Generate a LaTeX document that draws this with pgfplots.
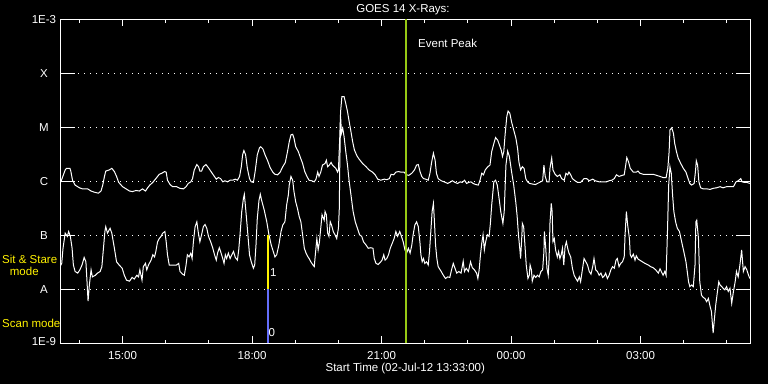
\documentclass[border=0pt]{standalone}
\usepackage{fontspec}
\setmainfont{Liberation Sans}
\usepackage{pgfplots}
\pgfplotsset{compat=1.18}
\definecolor{peak}{RGB}{150,200,20}
\definecolor{scanblue}{RGB}{100,110,250}
\begin{document}
\begin{tikzpicture}[x=1pt,y=1pt,font=\fontsize{11.5}{13}\selectfont]
\path[use as bounding box, fill=black] (0,0) rectangle (768,384);
\begin{axis}[
  at={(60pt,40.7pt)}, anchor=south west, scale only axis,
  width=690.7pt, height=324pt,
  xmin=13.55, xmax=29.55, ymin=-9, ymax=-3,
  axis line style={white, line width=1pt},
  xtick={15,18,21,24,27},
  xticklabels={15:00,18:00,21:00,00:00,03:00},
  minor xtick={14,16,17,19,20,22,23,25,26,28,29},
  ytick={-9,-8,-7,-6,-5,-4,-3},
  yticklabels={\raisebox{4pt}{1E-9},A,B,C,M,X,\raisebox{-4pt}{1E-3}},
  xtick pos=both, ytick pos=both, tick align=inside,
  tick style={white, line width=1pt},
  xtick style={/pgfplots/major tick length=7pt, /pgfplots/minor tick length=3.5pt},
  ytick style={/pgfplots/major tick length=15pt},
  ymajorgrids=true,
  major grid style={white, line width=1pt, dash pattern=on 1pt off 5pt},
  ticklabel style={white},
  xticklabel style={anchor=center, yshift=-12.4pt},
  yticklabel style={anchor=center, xshift=-16pt},
]
% GOES long channel (1-8 A), log10 flux
\addplot[white, line width=1pt, no markers] table {
13.53 -6.01
13.57 -6.01
13.67 -5.79
13.70 -5.76
13.78 -5.76
13.80 -5.81
13.84 -5.98
13.90 -6.07
14.00 -6.12
14.07 -6.14
14.19 -6.14
14.27 -6.18
14.34 -6.20
14.44 -6.22
14.50 -6.18
14.54 -6.07
14.58 -5.91
14.61 -5.81
14.69 -5.79
14.75 -5.76
14.81 -5.82
14.86 -5.91
14.91 -6.02
15.00 -6.10
15.08 -6.14
15.16 -6.18
15.23 -6.19
15.31 -6.17
15.39 -6.18
15.46 -6.14
15.53 -6.18
15.58 -6.12
15.63 -6.07
15.70 -6.02
15.76 -5.96
15.81 -5.91
15.85 -5.87
15.91 -5.85
15.97 -5.82
16.01 -5.83
16.04 -5.98
16.10 -6.06
16.16 -6.10
16.25 -6.10
16.33 -6.13
16.41 -6.14
16.47 -6.10
16.52 -6.04
16.58 -6.01
16.62 -5.95
16.66 -5.79
16.72 -5.69
16.76 -5.73
16.79 -5.81
16.83 -5.81
16.87 -5.73
16.93 -5.69
16.99 -5.75
17.04 -5.81
17.10 -5.88
17.17 -5.96
17.22 -5.93
17.27 -5.95
17.32 -6.01
17.37 -5.99
17.43 -6.01
17.49 -5.98
17.55 -5.98
17.61 -5.96
17.66 -5.98
17.71 -5.91
17.75 -5.73
17.78 -5.51
17.81 -5.43
17.85 -5.51
17.89 -5.76
17.94 -5.95
17.98 -6.01
18.03 -6.02
18.07 -5.82
18.12 -5.51
18.17 -5.38
18.20 -5.36
18.25 -5.40
18.30 -5.51
18.36 -5.62
18.42 -5.75
18.48 -5.83
18.53 -5.87
18.59 -5.88
18.65 -5.83
18.71 -5.73
18.77 -5.65
18.82 -5.45
18.86 -5.27
18.90 -5.14
18.94 -5.13
18.97 -5.20
19.01 -5.36
19.07 -5.45
19.11 -5.54
19.17 -5.67
19.22 -5.82
19.27 -5.91
19.32 -5.98
19.38 -5.99
19.44 -6.01
19.48 -5.96
19.52 -5.83
19.55 -5.91
19.59 -5.83
19.63 -5.70
19.69 -5.67
19.72 -5.61
19.75 -5.73
19.79 -5.70
19.83 -5.65
19.86 -5.70
19.90 -5.73
19.94 -5.76
19.98 -5.83
20.00 -5.79
20.03 -5.20
20.05 -4.71
20.08 -4.43
20.13 -4.43
20.17 -4.56
20.21 -4.71
20.25 -4.90
20.29 -5.08
20.33 -5.27
20.37 -5.42
20.43 -5.53
20.48 -5.59
20.56 -5.67
20.64 -5.73
20.71 -5.79
20.79 -5.83
20.85 -5.88
20.91 -5.96
20.98 -5.98
21.06 -5.96
21.12 -5.97
21.18 -5.95
21.22 -5.87
21.28 -5.88
21.33 -5.83
21.39 -5.82
21.45 -5.83
21.52 -5.83
21.58 -5.88
21.63 -5.89
21.70 -5.85
21.76 -5.79
21.81 -5.70
21.85 -5.69
21.89 -5.82
21.93 -5.91
21.97 -5.95
22.02 -5.96
22.08 -5.98
22.12 -5.85
22.16 -5.64
22.20 -5.48
22.24 -5.61
22.27 -5.85
22.31 -5.95
22.38 -5.99
22.45 -6.01
22.53 -6.04
22.58 -6.02
22.64 -5.99
22.70 -6.02
22.76 -6.04
22.82 -6.01
22.87 -6.02
22.92 -5.98
22.97 -6.04
23.02 -6.02
23.07 -6.01
23.12 -6.04
23.18 -6.06
23.24 -6.07
23.28 -5.98
23.32 -5.85
23.36 -5.88
23.40 -5.79
23.46 -5.73
23.51 -5.70
23.55 -5.45
23.60 -5.30
23.64 -5.19
23.69 -5.24
23.73 -5.33
23.77 -5.42
23.80 -5.54
23.83 -5.45
23.86 -5.14
23.90 -4.80
23.93 -4.70
23.97 -4.74
24.01 -4.90
24.05 -5.02
24.09 -5.14
24.11 -5.20
24.15 -5.39
24.18 -5.64
24.22 -5.79
24.26 -5.73
24.30 -5.76
24.34 -5.95
24.38 -6.01
24.43 -6.04
24.49 -6.05
24.56 -6.06
24.61 -6.04
24.66 -6.02
24.73 -5.99
24.76 -5.70
24.79 -5.91
24.83 -6.01
24.88 -6.01
24.90 -5.76
24.94 -5.57
24.97 -5.79
25.02 -5.87
25.07 -5.91
25.13 -5.88
25.17 -5.95
25.23 -5.98
25.27 -5.85
25.31 -5.88
25.34 -5.83
25.38 -5.88
25.42 -5.95
25.48 -5.99
25.54 -6.02
25.61 -6.02
25.69 -5.95
25.75 -5.95
25.81 -5.99
25.89 -5.96
25.95 -5.99
26.04 -6.01
26.13 -6.01
26.21 -6.01
26.27 -5.99
26.33 -5.98
26.39 -5.95
26.44 -5.88
26.50 -5.91
26.57 -5.89
26.62 -5.88
26.66 -5.67
26.68 -5.56
26.72 -5.64
26.76 -5.76
26.83 -5.83
26.90 -5.83
26.94 -5.81
26.98 -5.85
27.06 -5.87
27.18 -5.87
27.29 -5.87
27.37 -5.89
27.45 -5.91
27.52 -5.93
27.59 -5.93
27.63 -5.76
27.66 -5.45
27.68 -5.05
27.72 -5.01
27.76 -5.11
27.79 -5.30
27.83 -5.45
27.87 -5.57
27.93 -5.67
27.99 -5.76
28.05 -5.83
28.10 -5.95
28.14 -6.04
28.18 -6.07
28.24 -6.04
28.27 -5.82
28.29 -5.62
28.32 -5.70
28.35 -6.01
28.39 -6.12
28.45 -6.14
28.53 -6.14
28.61 -6.15
28.68 -6.13
28.76 -6.12
28.84 -6.10
28.91 -6.12
28.99 -6.10
29.07 -6.10
29.15 -6.10
29.21 -6.01
29.26 -5.99
29.32 -5.95
29.35 -6.01
29.40 -6.02
29.46 -6.02
29.53 -6.04
};
% GOES short channel (0.5-4 A), log10 flux
\addplot[white, line width=1pt, no markers] table {
13.55 -7.58
13.59 -7.52
13.62 -7.24
13.67 -6.96
13.72 -7.02
13.75 -6.93
13.79 -7.02
13.83 -7.24
13.86 -7.55
13.90 -7.67
13.96 -7.70
14.01 -7.64
14.06 -7.55
14.11 -7.41
14.15 -7.49
14.18 -7.92
14.20 -8.22
14.23 -7.92
14.27 -7.64
14.30 -7.77
14.37 -7.74
14.42 -7.70
14.48 -7.67
14.52 -7.58
14.55 -7.30
14.59 -6.93
14.61 -6.84
14.65 -6.96
14.71 -6.87
14.75 -6.96
14.81 -7.24
14.86 -7.49
14.92 -7.55
14.99 -7.61
15.04 -7.74
15.09 -7.83
15.16 -7.85
15.22 -7.78
15.27 -7.81
15.33 -7.74
15.37 -7.77
15.40 -7.64
15.45 -7.83
15.48 -7.58
15.53 -7.52
15.56 -7.64
15.60 -7.55
15.66 -7.46
15.70 -7.36
15.74 -7.40
15.77 -7.30
15.81 -7.12
15.85 -7.06
15.89 -7.02
15.93 -6.96
15.98 -6.93
16.01 -7.12
16.04 -7.36
16.08 -7.55
16.16 -7.55
16.25 -7.55
16.30 -7.52
16.33 -7.67
16.39 -7.72
16.43 -7.74
16.47 -7.55
16.50 -7.36
16.54 -7.40
16.58 -7.33
16.61 -7.43
16.64 -7.12
16.68 -6.84
16.72 -6.75
16.75 -6.93
16.79 -7.12
16.83 -6.99
16.87 -6.84
16.91 -6.80
16.95 -6.87
16.99 -7.02
17.04 -7.12
17.09 -7.24
17.13 -7.36
17.17 -7.46
17.20 -7.33
17.24 -7.23
17.27 -7.30
17.32 -7.43
17.35 -7.52
17.38 -7.36
17.41 -7.43
17.45 -7.33
17.49 -7.43
17.53 -7.36
17.57 -7.30
17.61 -7.41
17.66 -7.46
17.69 -7.27
17.72 -6.99
17.76 -6.56
17.80 -6.31
17.82 -6.24
17.85 -6.50
17.89 -6.87
17.94 -7.36
17.98 -7.49
18.03 -7.61
18.06 -7.55
18.09 -7.18
18.12 -6.69
18.16 -6.35
18.19 -6.24
18.22 -6.35
18.28 -6.53
18.34 -6.75
18.39 -6.99
18.44 -7.17
18.49 -7.30
18.53 -7.40
18.57 -7.36
18.62 -7.18
18.67 -6.93
18.71 -6.81
18.76 -6.75
18.80 -6.44
18.84 -6.25
18.86 -6.07
18.90 -5.91
18.94 -5.98
18.97 -6.19
19.01 -6.38
19.05 -6.50
19.09 -6.65
19.13 -6.75
19.17 -6.99
19.21 -7.24
19.25 -7.33
19.28 -7.38
19.32 -7.43
19.36 -7.49
19.41 -7.55
19.44 -7.58
19.46 -7.40
19.50 -7.06
19.53 -7.27
19.56 -7.12
19.59 -6.87
19.62 -6.62
19.67 -6.72
19.69 -6.56
19.72 -6.62
19.75 -6.96
19.78 -7.02
19.81 -6.75
19.84 -6.81
19.88 -6.93
19.92 -6.99
19.96 -7.06
20.00 -6.87
20.02 -6.50
20.03 -5.76
20.05 -4.80
20.07 -5.11
20.10 -5.02
20.13 -5.17
20.17 -5.45
20.21 -5.70
20.25 -6.01
20.29 -6.25
20.34 -6.56
20.39 -6.75
20.44 -6.87
20.49 -6.99
20.54 -7.02
20.58 -7.12
20.64 -7.18
20.69 -7.24
20.75 -7.23
20.80 -7.24
20.83 -7.43
20.87 -7.52
20.92 -7.54
20.97 -7.50
21.01 -7.46
21.05 -7.36
21.08 -7.46
21.12 -7.43
21.16 -7.36
21.20 -7.24
21.26 -7.12
21.29 -7.06
21.33 -6.93
21.37 -7.02
21.42 -6.93
21.46 -7.02
21.50 -7.12
21.54 -7.27
21.58 -7.33
21.62 -7.24
21.66 -7.33
21.70 -7.18
21.73 -6.99
21.77 -6.81
21.81 -6.75
21.85 -6.84
21.89 -7.15
21.91 -7.36
21.94 -7.49
21.97 -7.43
22.00 -7.52
22.04 -7.49
22.08 -7.55
22.11 -7.30
22.14 -6.93
22.17 -6.56
22.20 -6.41
22.22 -6.69
22.25 -7.18
22.28 -7.43
22.31 -7.58
22.38 -7.67
22.43 -7.74
22.48 -7.80
22.53 -7.77
22.58 -7.78
22.62 -7.64
22.66 -7.52
22.70 -7.61
22.74 -7.70
22.79 -7.67
22.84 -7.70
22.89 -7.48
22.92 -7.67
22.96 -7.61
23.01 -7.67
23.06 -7.49
23.10 -7.60
23.15 -7.64
23.20 -7.70
23.23 -7.80
23.26 -7.64
23.29 -7.36
23.32 -7.15
23.35 -6.99
23.38 -7.27
23.41 -7.12
23.45 -6.99
23.49 -7.02
23.52 -6.78
23.55 -6.44
23.60 -6.01
23.64 -5.98
23.68 -6.07
23.72 -6.31
23.76 -6.56
23.81 -6.78
23.84 -6.56
23.88 -5.70
23.92 -5.44
23.96 -5.54
24.01 -5.82
24.06 -6.07
24.11 -6.40
24.14 -6.65
24.17 -6.99
24.20 -7.24
24.22 -7.43
24.25 -6.99
24.26 -6.78
24.29 -6.84
24.32 -7.18
24.35 -7.55
24.39 -7.80
24.42 -7.74
24.44 -7.55
24.47 -7.64
24.49 -7.85
24.53 -7.74
24.57 -7.78
24.61 -7.74
24.65 -7.77
24.69 -7.67
24.73 -7.64
24.76 -7.30
24.77 -6.93
24.80 -7.21
24.83 -7.61
24.86 -7.74
24.88 -7.43
24.90 -6.78
24.93 -6.41
24.95 -6.56
24.97 -7.12
25.00 -7.06
25.03 -7.27
25.07 -7.40
25.10 -7.30
25.13 -7.43
25.16 -7.36
25.19 -7.24
25.22 -7.55
25.25 -7.21
25.28 -7.12
25.31 -7.24
25.34 -7.33
25.38 -7.40
25.42 -7.61
25.46 -7.74
25.50 -7.80
25.54 -7.85
25.58 -7.77
25.61 -7.86
25.65 -7.64
25.69 -7.43
25.73 -7.49
25.77 -7.55
25.81 -7.67
25.85 -7.72
25.89 -7.58
25.92 -7.43
25.96 -7.64
26.00 -7.67
26.04 -7.74
26.08 -7.70
26.12 -7.78
26.16 -7.75
26.19 -7.70
26.23 -7.80
26.27 -7.74
26.31 -7.64
26.35 -7.58
26.39 -7.61
26.43 -7.46
26.46 -7.43
26.50 -7.58
26.54 -7.52
26.58 -7.49
26.62 -7.40
26.64 -6.99
26.67 -6.56
26.70 -6.81
26.74 -7.06
26.76 -7.36
26.79 -7.41
26.83 -7.35
26.87 -7.46
26.90 -7.38
26.94 -7.44
26.98 -7.46
27.04 -7.49
27.10 -7.52
27.18 -7.55
27.23 -7.58
27.29 -7.60
27.35 -7.64
27.41 -7.70
27.45 -7.62
27.49 -7.69
27.52 -7.74
27.56 -7.67
27.59 -7.74
27.62 -6.99
27.65 -6.07
27.68 -5.73
27.71 -5.85
27.74 -6.25
27.77 -6.56
27.81 -6.75
27.85 -6.87
27.90 -6.93
27.95 -7.12
28.00 -7.30
28.05 -7.49
28.08 -7.67
28.11 -7.86
28.14 -7.95
28.18 -7.92
28.22 -7.95
28.26 -7.55
28.28 -6.75
28.30 -6.72
28.34 -7.06
28.37 -7.86
28.41 -8.11
28.45 -8.15
28.49 -8.17
28.53 -8.23
28.57 -8.17
28.61 -8.32
28.64 -8.41
28.68 -8.81
28.71 -8.54
28.74 -8.29
28.78 -8.04
28.81 -7.86
28.84 -7.92
28.88 -7.95
28.91 -7.98
28.95 -8.01
28.99 -7.95
29.03 -8.04
29.07 -7.98
29.11 -8.26
29.15 -8.04
29.19 -7.86
29.22 -7.67
29.26 -7.77
29.30 -7.55
29.34 -7.27
29.38 -7.67
29.42 -7.58
29.46 -7.64
29.50 -7.74
29.53 -7.80
};
% mode markers and event peak
\addplot[scanblue, line width=2.5pt, no markers] coordinates {(18.37,-9) (18.37,-8)};
\addplot[yellow, line width=2pt, no markers] coordinates {(18.37,-8) (18.37,-7)};
\addplot[peak, line width=2.5pt, no markers] coordinates {(21.57,-9) (21.57,-3)};
\end{axis}
\node[white] at (403,374) {GOES 14 X-Rays:};
\node[white] at (405.3,15.2) {Start Time (02-Jul-12 13:33:00)};
\node[white, anchor=west, inner sep=0pt] at (418,341) {Event Peak};
\node[white, inner sep=0pt] at (273.3,111) {1};
\node[white, inner sep=0pt] at (271.7,51.5) {0};
\node[yellow, anchor=west, inner sep=0pt] at (2,125) {Sit \& Stare};
\node[yellow, inner sep=0pt] at (24.3,113) {mode};
\node[yellow, anchor=west, inner sep=0pt] at (2,61) {Scan mode};
\end{tikzpicture}
\end{document}
